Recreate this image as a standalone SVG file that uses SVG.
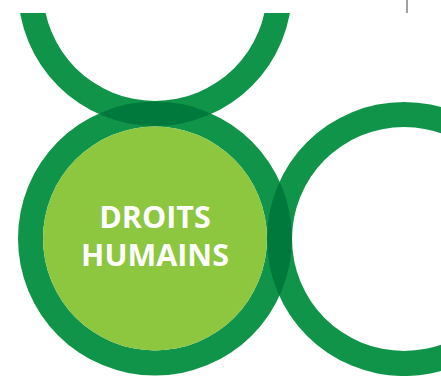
<svg xmlns="http://www.w3.org/2000/svg" xmlns:xlink="http://www.w3.org/1999/xlink" width="441" height="376" viewBox="0 0 441 376">
<style>
.ring{fill:#10944a;fill-rule:evenodd}
.lens{fill:#007a3c;fill-rule:evenodd}
.core{fill:#8dc63f}
.lbl{font-family:"Open Sans","Liberation Sans",sans-serif;font-weight:bold;font-size:30.5px;fill:#ffffff;text-anchor:middle}
</style>
<defs>
<path id="rMain" d="M18,238.5a137,137 0 1,0 274,0a137,137 0 1,0 -274,0ZM43,238.5a112,112 0 1,0 224,0a112,112 0 1,0 -224,0Z"/>
<path id="rTop" d="M18,-11a137,137 0 1,0 274,0a137,137 0 1,0 -274,0ZM43,-11a112,112 0 1,0 224,0a112,112 0 1,0 -224,0Z"/>
<path id="rRight" d="M267,239a137,137 0 1,0 274,0a137,137 0 1,0 -274,0ZM292,239a112,112 0 1,0 224,0a112,112 0 1,0 -224,0Z"/>
<clipPath id="cMain"><use xlink:href="#rMain" clip-rule="evenodd"/></clipPath>
<clipPath id="cTopArea"><rect x="0" y="13" width="441" height="363"/></clipPath>
</defs>
<rect width="441" height="376" fill="#ffffff"/>
<g id="top-ring" clip-path="url(#cTopArea)">
<use xlink:href="#rTop" class="ring"/>
</g>
<g id="right-ring">
<use xlink:href="#rRight" class="ring"/>
</g>
<g id="droits-humains">
<use xlink:href="#rMain" class="ring"/>
<circle class="core" cx="155" cy="238.5" r="112"/>
<text class="lbl" x="155" y="228">DROITS</text>
<text class="lbl" x="155" y="266">HUMAINS</text>
</g>
<g id="overlaps" clip-path="url(#cMain)">
<use xlink:href="#rTop" class="lens"/>
<use xlink:href="#rRight" class="lens"/>
</g>
<g id="connectors"></g>
<line x1="407" y1="0" x2="407" y2="13" stroke="#444444" stroke-width="1"/>
</svg>
